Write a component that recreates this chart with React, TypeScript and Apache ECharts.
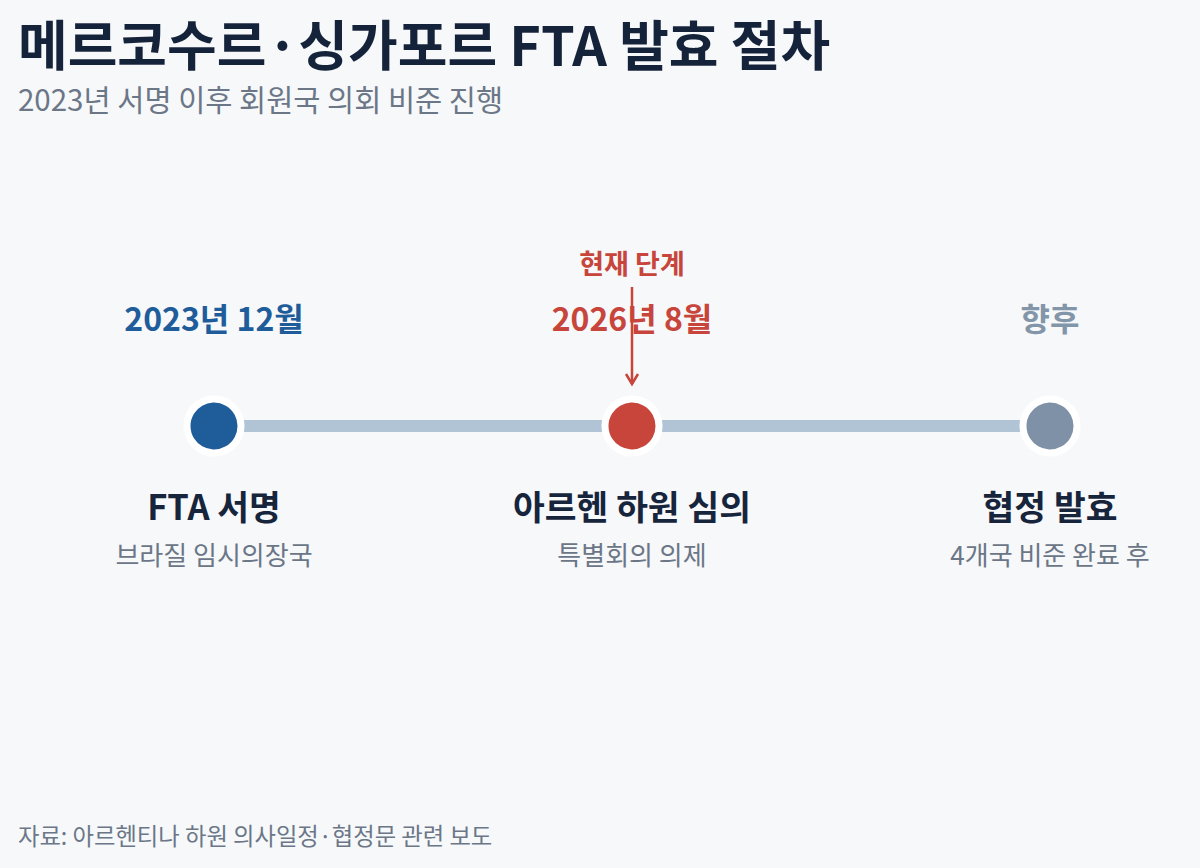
import React, { useEffect, useRef } from "react";
import * as echarts from "echarts";

const chartTitle = "메르코수르·싱가포르 FTA 발효 절차";
const chartSubtitle = "2023년 서명 이후 회원국 의회 비준 진행";
const sourceNote = "자료: 아르헨티나 하원 의사일정·협정문 관련 보도";

const stagePositions = [0, 1, 2];
const stageDates = ["2023년 12월", "2026년 8월", "향후"];
const stageTitles = ["FTA 서명", "아르헨 하원 심의", "협정 발효"];
const stageNotes = ["브라질 임시의장국", "특별회의 의제", "4개국 비준 완료 후"];
const stageStatus = ["done", "current", "future"];
const currentStageLabel = "현재 단계";

const FONT = '"Noto Sans CJK KR", "Noto Sans", sans-serif';
const statusColor: Record<string, string> = {
  done: "#1f5c9a",
  current: "#c7453a",
  future: "#7f91a6",
};
const statusDateColor: Record<string, string> = {
  done: "#1f5c9a",
  current: "#c7453a",
  future: "#8295a9",
};

const hiddenPoint = { color: "transparent", borderWidth: 0, opacity: 1 };

export default function App() {
  const ref = useRef<HTMLDivElement>(null);
  useEffect(() => {
    document.body.style.margin = "0";
    document.body.style.background = "#f6f8fa";
    const chart = echarts.init(ref.current!, undefined, { renderer: "svg" });
    const currentIdx = stageStatus.indexOf("current");
    const pts = stagePositions.map((x) => [x, 0]);
    const labelSeries = (data: any[], label: any) => ({
      type: "scatter",
      data,
      symbolSize: 1,
      itemStyle: hiddenPoint,
      silent: true,
      label: {
        show: true,
        position: "inside",
        fontFamily: FONT,
        opacity: 1,
        ...label,
      },
      z: 2,
    });
    chart.setOption({
      animation: false,
      backgroundColor: "#f6f8fa",
      grid: { left: 214, right: 150, top: 326, height: 200 },
      xAxis: { type: "value", min: 0, max: 2, show: false },
      yAxis: { type: "value", min: -1, max: 1, show: false },
      graphic: [
        {
          type: "text",
          x: 18,
          y: 42,
          style: {
            text: chartTitle,
            fontFamily: FONT,
            fontWeight: "bold",
            fontSize: 54,
            lineHeight: 54,
            fill: "#15233a",
            verticalAlign: "middle",
          },
        },
        {
          type: "text",
          x: 18,
          y: 98,
          style: {
            text: chartSubtitle,
            fontFamily: FONT,
            fontSize: 29.5,
            lineHeight: 30,
            fill: "#6b7687",
            verticalAlign: "middle",
          },
        },
        {
          type: "text",
          x: 18,
          y: 835,
          style: {
            text: sourceNote,
            fontFamily: FONT,
            fontSize: 23.3,
            lineHeight: 24,
            fill: "#6b7687",
            verticalAlign: "middle",
          },
        },
      ],
      series: [
        {
          type: "line",
          data: pts,
          symbol: "none",
          lineStyle: { width: 12, color: "#b0c4d6" },
          z: 1,
        },
        {
          type: "scatter",
          data: pts.map((p, i) => ({
            value: p,
            itemStyle: { color: statusColor[stageStatus[i]] },
          })),
          symbolSize: 54,
          itemStyle: { borderColor: "#ffffff", borderWidth: 7, opacity: 1 },
          z: 3,
        },
        labelSeries(
          pts.map((p, i) => ({
            value: p,
            label: { formatter: stageDates[i], color: statusDateColor[stageStatus[i]] },
          })),
          { offset: [0, -109], fontWeight: "bold", fontSize: 32 }
        ),
        labelSeries(
          pts.map((p, i) => ({ value: p, label: { formatter: stageTitles[i] } })),
          { offset: [0, 79], fontWeight: "bold", fontSize: 34.5, color: "#17253c" }
        ),
        labelSeries(
          pts.map((p, i) => ({ value: p, label: { formatter: stageNotes[i] } })),
          { offset: [0, 127], fontSize: 26, color: "#6b7687" }
        ),
        labelSeries(
          [{ value: pts[currentIdx], label: { formatter: currentStageLabel } }],
          { offset: [0, -164], fontWeight: "bold", fontSize: 27, color: "#c7453a" }
        ),
        {
          type: "custom",
          data: [pts[currentIdx]],
          z: 5,
          renderItem: (params: any, api: any) => {
            const c = api.coord([api.value(0), api.value(1)]);
            const x = c[0];
            const y = c[1];
            return {
              type: "group",
              children: [
                {
                  type: "line",
                  shape: { x1: x, y1: y - 139, x2: x, y2: y - 42 },
                  style: { stroke: "#c7453a", lineWidth: 2.5 },
                },
                {
                  type: "polyline",
                  shape: {
                    points: [
                      [x - 6, y - 52],
                      [x, y - 42],
                      [x + 6, y - 52],
                    ],
                  },
                  style: { stroke: "#c7453a", lineWidth: 2.5, fill: "none" },
                },
              ],
            };
          },
        },
      ],
    });
    return () => chart.dispose();
  }, []);
  return <div ref={ref} style={{ width: 1200, height: 868 }} />;
}
